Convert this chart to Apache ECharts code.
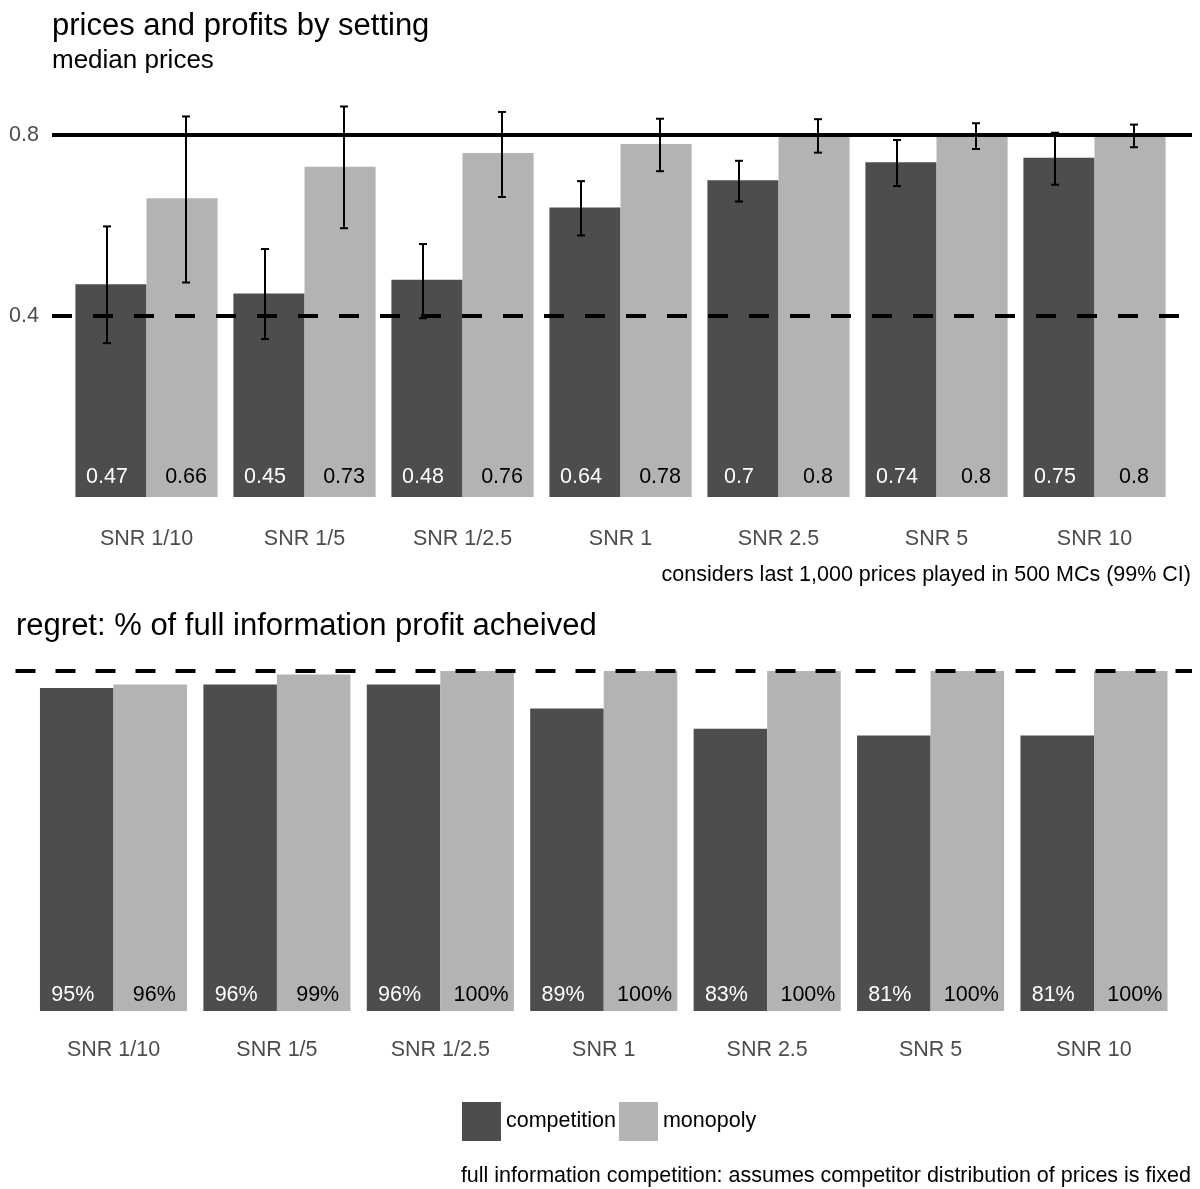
<!DOCTYPE html>
<html>
<head>
<meta charset="utf-8">
<title>prices and profits by setting</title>
<script src="https://cdn.jsdelivr.net/npm/echarts@6/dist/echarts.min.js"></script>
<style>
  html, body { margin: 0; padding: 0; background: #ffffff; }
  #chart { width: 1200px; height: 1189px; }
</style>
</head>
<body>
<div id="chart"></div>
<script>
// settings (signal-to-noise ratios)
const categories = ['SNR 1/10', 'SNR 1/5', 'SNR 1/2.5', 'SNR 1', 'SNR 2.5', 'SNR 5', 'SNR 10'];

// median prices
const priceCompetition = [0.47, 0.45, 0.48, 0.64, 0.7, 0.74, 0.75];
const priceMonopoly    = [0.66, 0.73, 0.76, 0.78, 0.8, 0.8, 0.8];

// 99% confidence intervals of the prices
const ciCompetitionLow  = [0.340, 0.349, 0.395, 0.578, 0.653, 0.687, 0.690];
const ciCompetitionHigh = [0.598, 0.548, 0.559, 0.698, 0.743, 0.789, 0.805];
const ciMonopolyLow     = [0.474, 0.594, 0.663, 0.720, 0.761, 0.769, 0.773];
const ciMonopolyHigh    = [0.841, 0.863, 0.851, 0.836, 0.835, 0.826, 0.823];

// reference prices
const monopolyPrice = 0.8;
const competitivePrice = 0.4;

// % of full information profit achieved
const profitCompetition = [95, 96, 96, 89, 83, 81, 81];
const profitMonopoly    = [96, 99, 100, 100, 100, 100, 100];
const fullInformation = 100;

const yTicks = [0.4, 0.8];

const DARK = '#4d4d4d';
const LIGHT = '#b3b3b3';
const FONT = 'Liberation Sans';
const AXIS_GREY = '#4d4d4d';
const SMALL = 21.5;

const chart = echarts.init(document.getElementById('chart'), null, { renderer: 'canvas' });

// error bar drawn with the same dodge as the value labels (quarter of a band)
function errorBarRenderer(side) {
  return function (params, api) {
    const idx = api.value(0);
    const lo = api.coord([idx, api.value(1)]);
    const hi = api.coord([idx, api.value(2)]);
    const band = api.size([1, 0])[0];
    const x = lo[0] + side * 0.25 * band;
    const cap = 4;
    const style = { stroke: '#000', lineWidth: 2 };
    return {
      type: 'group',
      children: [
        { type: 'line', shape: { x1: x, y1: lo[1], x2: x, y2: hi[1] }, style },
        { type: 'line', shape: { x1: x - cap, y1: lo[1], x2: x + cap, y2: lo[1] }, style },
        { type: 'line', shape: { x1: x - cap, y1: hi[1], x2: x + cap, y2: hi[1] }, style }
      ]
    };
  };
}

function zip3(a, b) {
  return a.map((v, i) => [i, v, b[i]]);
}

const hiddenAxis = {
  axisLine: { show: false }, axisTick: { show: false },
  axisLabel: { show: false }, splitLine: { show: false }
};

const catLabel = (margin) => ({
  show: true, margin, fontSize: SMALL, color: AXIS_GREY, fontFamily: FONT
});

function barLabel(color, dx, dist, fmt) {
  return {
    show: true, position: 'insideBottom', distance: dist, offset: [dx, 0],
    color, fontSize: SMALL, fontFamily: FONT, formatter: fmt
  };
}

const option = {
  animation: false,
  backgroundColor: '#ffffff',
  textStyle: { fontFamily: FONT },
  title: [
    { text: 'prices and profits by setting', left: 47, top: 6,
      textStyle: { fontSize: 31, fontWeight: 'normal', color: '#000', fontFamily: FONT } },
    { text: 'median prices', left: 47, top: 43,
      textStyle: { fontSize: 26, fontWeight: 'normal', color: '#000', fontFamily: FONT } },
    { text: 'considers last 1,000 prices played in 500 MCs (99% CI)', right: 4, top: 559,
      textStyle: { fontSize: SMALL, fontWeight: 'normal', color: '#000', fontFamily: FONT } },
    { text: 'regret: % of full information profit acheived', left: 11, top: 606,
      textStyle: { fontSize: 31, fontWeight: 'normal', color: '#000', fontFamily: FONT } },
    { text: 'full information competition: assumes competitor distribution of prices is fixed', right: 4, top: 1160,
      textStyle: { fontSize: SMALL, fontWeight: 'normal', color: '#000', fontFamily: FONT } }
  ],
  legend: {
    data: ['competition', 'monopoly'],
    left: 462, top: 1102, padding: 0,
    icon: 'rect', itemWidth: 39, itemHeight: 39, itemGap: 3,
    selectedMode: false,
    textStyle: { fontSize: SMALL, color: '#000', fontFamily: FONT }
  },
  grid: [
    // top: bars
    { left: 67.5, right: 26.5, top: 89.75, height: 407.25 },
    // top: full panel (reference lines and y labels)
    { left: 52, right: 8, top: 89.75, height: 407.25 },
    // bottom: bars
    { left: 31.8, right: 24.3, top: 654, height: 357 },
    // bottom: full panel (reference line)
    { left: 15.5, right: 8, top: 654, height: 357 }
  ],
  xAxis: [
    { type: 'category', gridIndex: 0, data: categories,
      axisLine: { show: false }, axisTick: { show: false }, splitLine: { show: false },
      axisLabel: catLabel(31) },
    Object.assign({ type: 'value', gridIndex: 1, min: 0, max: 1 }, hiddenAxis),
    { type: 'category', gridIndex: 2, data: categories,
      axisLine: { show: false }, axisTick: { show: false }, splitLine: { show: false },
      axisLabel: catLabel(28) },
    Object.assign({ type: 'value', gridIndex: 3, min: 0, max: 1 }, hiddenAxis)
  ],
  yAxis: [
    Object.assign({ type: 'value', gridIndex: 0, min: 0, max: 0.9 }, hiddenAxis),
    { type: 'value', gridIndex: 1, min: 0, max: 0.9, interval: 0.4,
      axisLine: { show: false }, axisTick: { show: false }, splitLine: { show: false },
      axisLabel: {
        show: true, margin: 13, fontSize: SMALL, color: AXIS_GREY, fontFamily: FONT,
        formatter: function (v) {
          const hit = yTicks.find(t => Math.abs(t - v) < 1e-6);
          return hit === undefined ? '' : hit.toFixed(1);
        }
      } },
    Object.assign({ type: 'value', gridIndex: 2, min: 0, max: 105 }, hiddenAxis),
    Object.assign({ type: 'value', gridIndex: 3, min: 0, max: 105 }, hiddenAxis)
  ],
  series: [
    // median prices
    { name: 'competition', type: 'bar', xAxisIndex: 0, yAxisIndex: 0, z: 2,
      data: priceCompetition, barGap: '0%', barCategoryGap: '10%',
      itemStyle: { color: DARK },
      label: barLabel('#ffffff', -4, 9, p => String(p.value)) },
    { name: 'monopoly', type: 'bar', xAxisIndex: 0, yAxisIndex: 0, z: 2,
      data: priceMonopoly, barGap: '0%', barCategoryGap: '10%',
      itemStyle: { color: LIGHT },
      label: barLabel('#000000', 4, 9, p => String(p.value)) },
    // reference prices
    { type: 'line', xAxisIndex: 1, yAxisIndex: 1, silent: true, symbol: 'none', z: 5,
      data: [[0, monopolyPrice], [1, monopolyPrice]],
      lineStyle: { color: '#000', width: 4, type: 'solid' } },
    { type: 'line', xAxisIndex: 1, yAxisIndex: 1, silent: true, symbol: 'none', z: 5,
      data: [[0, competitivePrice], [1, competitivePrice]],
      lineStyle: { color: '#000', width: 4, type: [20, 21] } },
    // confidence intervals
    { type: 'custom', xAxisIndex: 0, yAxisIndex: 0, silent: true, z: 10,
      data: zip3(ciCompetitionLow, ciCompetitionHigh),
      encode: { x: 0, y: [1, 2] },
      renderItem: errorBarRenderer(-1) },
    { type: 'custom', xAxisIndex: 0, yAxisIndex: 0, silent: true, z: 10,
      data: zip3(ciMonopolyLow, ciMonopolyHigh),
      encode: { x: 0, y: [1, 2] },
      renderItem: errorBarRenderer(1) },
    // regret
    { name: 'competition', type: 'bar', xAxisIndex: 2, yAxisIndex: 2, z: 2,
      data: profitCompetition, barGap: '0%', barCategoryGap: '10%',
      itemStyle: { color: DARK },
      label: barLabel('#ffffff', -4, 5, p => p.value + '%') },
    { name: 'monopoly', type: 'bar', xAxisIndex: 2, yAxisIndex: 2, z: 2,
      data: profitMonopoly, barGap: '0%', barCategoryGap: '10%',
      itemStyle: { color: LIGHT },
      label: barLabel('#000000', 4, 5, p => p.value + '%') },
    { type: 'line', xAxisIndex: 3, yAxisIndex: 3, silent: true, symbol: 'none', z: 5,
      data: [[0, fullInformation], [1, fullInformation]],
      lineStyle: { color: '#000', width: 4, type: [20, 20] } }
  ]
};

chart.setOption(option);
</script>
</body>
</html>
